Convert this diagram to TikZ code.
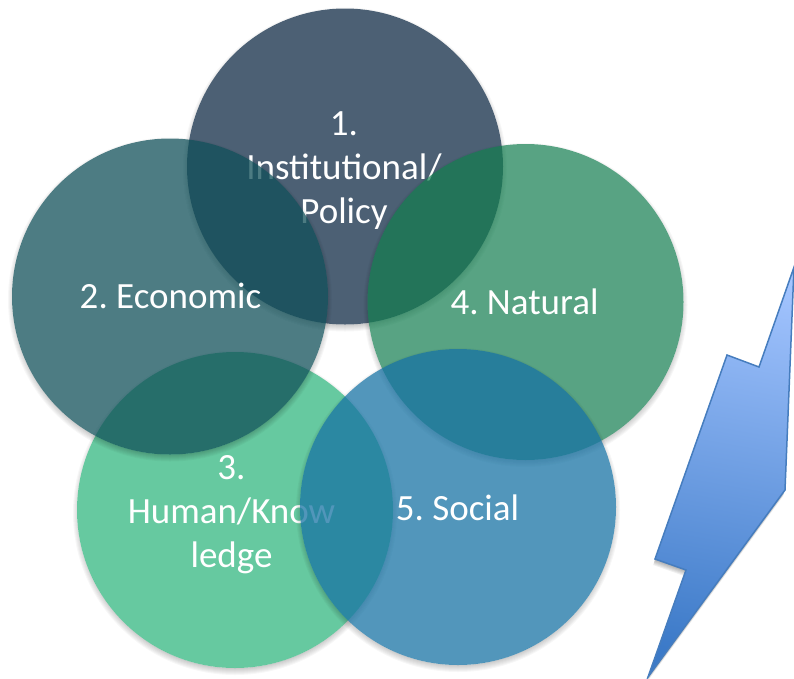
\documentclass[tikz,border=0pt]{standalone}
\usepackage{fontspec}
\setmainfont{Carlito}
\frenchspacing
\tikzset{
  x=1pt,y=-1pt,
  venn/.style={circle,minimum size=316pt,inner sep=0pt,outer sep=0pt,fill=#1,fill opacity=.75},
  vennlabel/.style={inner sep=0pt,text=white,align=center,font=\fontsize{37}{44}\selectfont},
  shadowlayer/.style={fill=black,opacity=.03}
}
\definecolor{cOne}{RGB}{16,43,70}
\definecolor{cTwo}{RGB}{17,80,89}
\definecolor{cThree}{RGB}{51,183,128}
\definecolor{cFour}{RGB}{18,125,79}
\definecolor{cFive}{RGB}{24,115,164}
\definecolor{boltTop}{RGB}{164,197,255}
\definecolor{boltBottom}{RGB}{60,122,200}
\definecolor{boltLine}{RGB}{70,125,190}
\newcommand{\softshadow}[2]{%
  \begin{scope}[even odd rule]
    \clip (-50,-50) rectangle (850,730) (#1,#2) circle[radius=158];
    \foreach \g in {-2,-1,0,1,2,3,4}{\fill[shadowlayer] (#1,#2+3) circle[radius=158+\g];}
  \end{scope}}
\def\boltpath{(800,250) -- (759,367) -- (727,355) -- (655,559) -- (686,570) -- (648,677) -- (785,490) -- (794,267) -- cycle}
\begin{document}
\begin{tikzpicture}
\useasboundingbox (0,0) rectangle (794,678);
\clip (0,0) rectangle (794,678);
\softshadow{345}{166.5}
\node[venn=cOne] (inst) at (345,166.5) {};
\node[vennlabel] (instT) at (344,170.5) {1.\\Institutional/\\Policy};
\softshadow{235}{510}
\node[venn=cThree] (human) at (235,510) {};
\node[vennlabel] (humanT) at (231.5,515) {3.\\Human/Know\\ledge};
\softshadow{170}{296.5}
\node[venn=cTwo] (econ) at (170,296.5) {};
\node[vennlabel] (econT) at (170.5,296) {2. Economic};
\softshadow{525.5}{302}
\node[venn=cFour,fill opacity=.705] (nat) at (525.5,302) {};
\node[vennlabel] (natT) at (524.5,302) {4. Natural};
\softshadow{458}{507}
\node[venn=cFive] (soc) at (458,507) {};
\node[vennlabel] (socT) at (457.5,508) {5. Social};
\begin{scope}[even odd rule]
  \clip (600,200) rectangle (850,730) \boltpath;
  \foreach \g in {1,2,3,4,5,6}{
    \begin{scope}[shift={(-\g*.3,\g)}]
      \fill[shadowlayer,opacity=.06,nonzero rule] \boltpath;
    \end{scope}
  }
\end{scope}
\path[draw=boltLine,line width=1.5pt,line join=miter,top color=boltTop,bottom color=boltBottom,shading angle=-10] \boltpath;
\end{tikzpicture}
\end{document}
